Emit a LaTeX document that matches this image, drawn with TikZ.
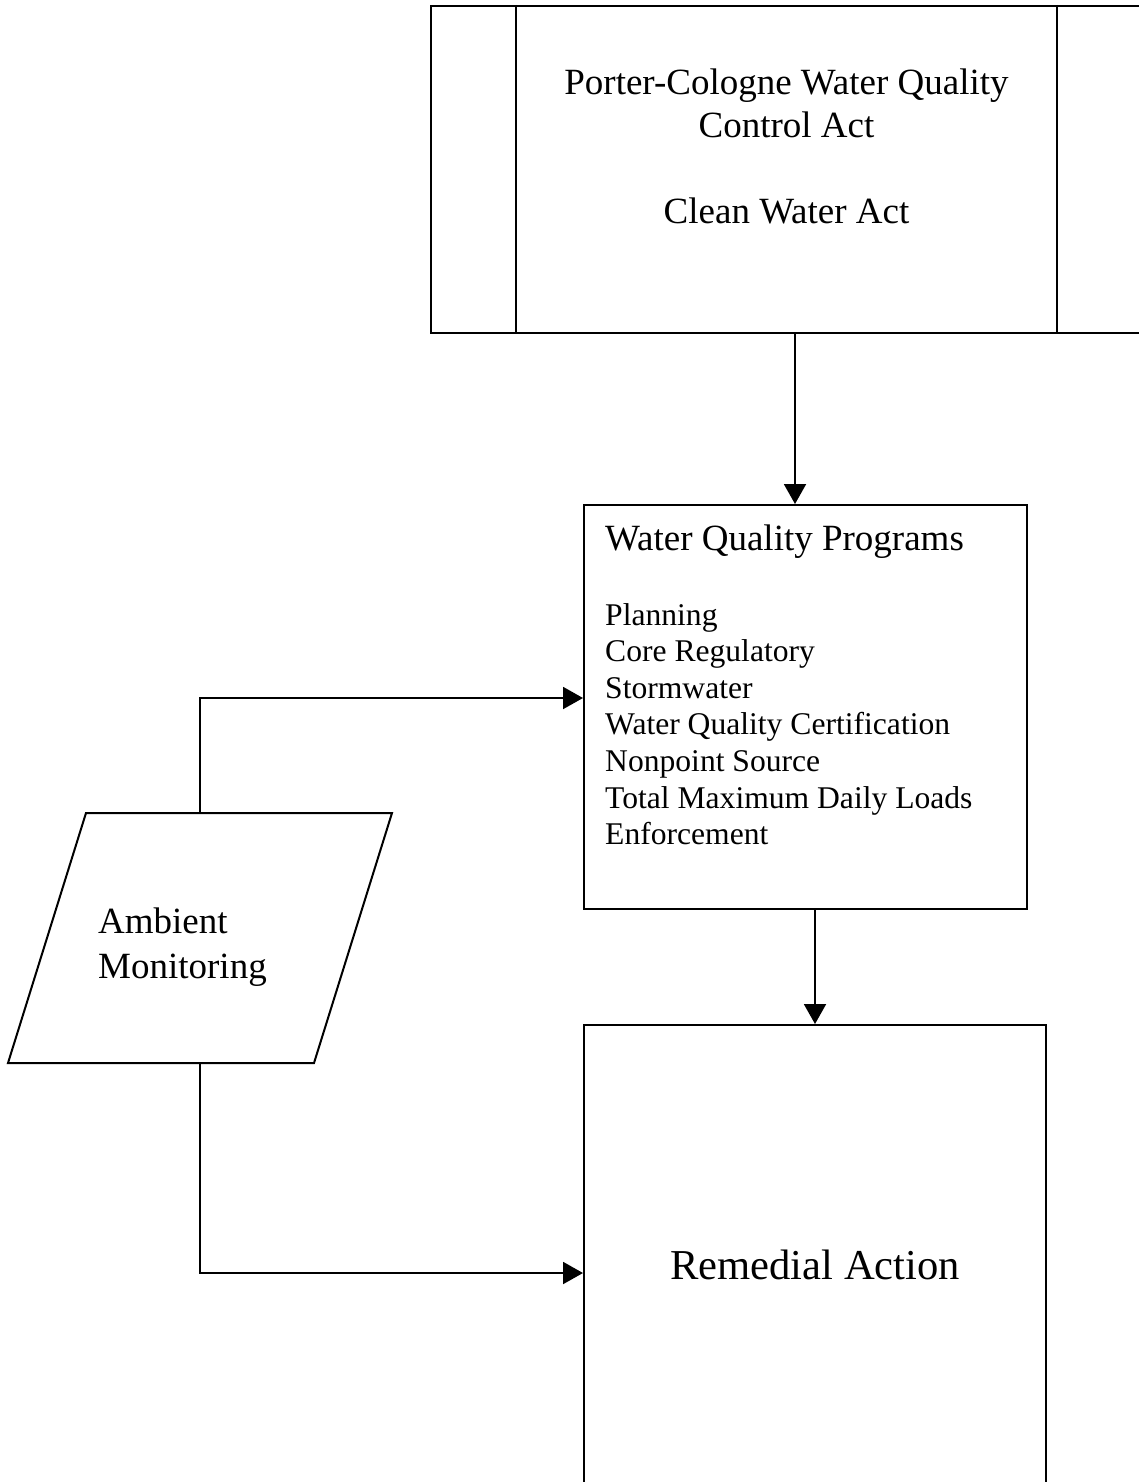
\documentclass[tikz,border=0pt]{standalone}
\usepackage{fontspec}
\setmainfont{Liberation Serif}
\usepackage{tikz}
\usetikzlibrary{arrows.meta}
\tikzset{
  law/.style   = {draw, line width=2.4pt, minimum width=711pt, minimum height=327pt},
  prog/.style  = {draw, line width=2pt, minimum width=443pt, minimum height=404pt},
  remed/.style = {draw, line width=2pt, minimum width=462pt, minimum height=480pt,
                  font=\fontsize{42.6}{49}\selectfont},
  data/.style  = {draw, line width=2pt, line join=miter},
  txt/.style   = {inner sep=0pt, font=\fontsize{37}{43}\selectfont},
  fl/.style    = {-{Triangle[length=20pt, width=22pt]}, line width=2pt},
}
\begin{document}
\begin{tikzpicture}[x=1pt, y=-1pt]
  \useasboundingbox (0,0) rectangle (1138,1482);
  % boxes
  \node[law]   (acts) at (786.5,169.5) {};
  \draw[line width=2.4pt] ([xshift=86pt]acts.north west) -- ([xshift=86pt]acts.south west);
  \draw[line width=2.4pt] ([xshift=-86pt]acts.north east) -- ([xshift=-86pt]acts.south east);
  \node[prog]  (wqp) at (805.5,707) {};
  \node[remed] (rem) at (815,1265) {Remedial Action};
  % monitoring (parallelogram)
  \coordinate (ambtop) at (200,813);
  \coordinate (ambbot) at (200,1063);
  \draw[data] (86,813) -- (392,813) -- (314,1063) -- (8,1063) -- cycle;
  % texts (base = last line)
  \node[txt, anchor=base, align=center] (actstxt) at (786.5,223)
       {Porter-Cologne Water Quality\\Control Act\\[43pt]Clean Water Act};
  \node[txt, anchor=base west] (wqptitle) at (605,550) {Water Quality Programs};
  \node[txt, anchor=base west, align=left, font=\fontsize{31.6}{36.6}\selectfont]
       (wqplist) at (605,844.6)
       {Planning\\Core Regulatory\\Stormwater\\Water Quality Certification\\
        Nonpoint Source\\Total Maximum Daily Loads\\Enforcement};
  \node[txt, anchor=base west, align=left, font=\fontsize{37}{45}\selectfont]
       (amb) at (98,978) {Ambient\\Monitoring};
  % flows
  \draw[fl] ([xshift=8.5pt]acts.south) -- ([xshift=8.5pt]acts.south |- wqp.north);
  \draw[fl] (wqp.south -| rem.north) -- (rem.north);
  \draw[fl] (ambtop) |- ([yshift=9pt]wqp.west);
  \draw[fl] (ambbot) |- ([yshift=-8pt]rem.west);
\end{tikzpicture}
\end{document}
